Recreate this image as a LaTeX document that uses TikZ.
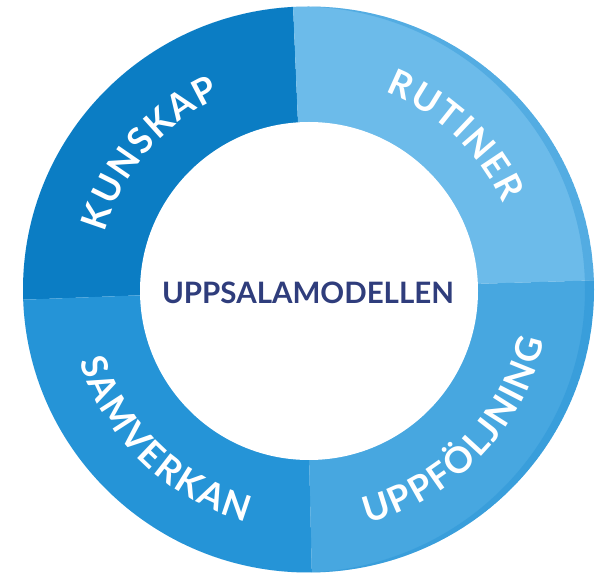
\documentclass[tikz,border=0pt]{standalone}
\usepackage{fontspec}
\newfontfamily\lblfont{Lato}
\usetikzlibrary{decorations.text}
\definecolor{kunskapc}{HTML}{0B7DC4}
\definecolor{rutinerc}{HTML}{6CBBEA}
\definecolor{uppfc}{HTML}{47A7E0}
\definecolor{samverkc}{HTML}{2594D7}
\definecolor{rimc}{HTML}{1A8AD0}
\definecolor{titlec}{HTML}{2F3D7C}
\newcommand{\ringfont}{\lblfont\bfseries\fontsize{36}{36}\selectfont}
\begin{document}
\begin{tikzpicture}[x=1pt,y=1pt,
  lbl/.style={font=\ringfont, decorate, decoration={text effects along path, text={#1}, text align=center,
    text effects/.cd, text along path,
    characters={text=white, font=\ringfont},
    character widths/.try={font=\ringfont, inner xsep=1pt}}}]
\useasboundingbox (0,0) rectangle (603,576);
\coordinate (ctr) at (308.5,286.5);
\coordinate (tc) at (309,286);
\coordinate (c) at (305,287);
\begin{scope}
  \clip (ctr) ellipse [x radius=285.5, y radius=283];
  \fill[kunskapc] (c) -- (292,596) -- (-20,596) -- (-20,274.6) -- cycle;
  \fill[rutinerc] (c) -- (292,596) -- (620,596) -- (620,296.4) -- cycle;
  \fill[uppfc] (c) -- (620,296.4) -- (620,-24) -- (312.5,-24) -- cycle;
  \fill[samverkc] (c) -- (312.5,-24) -- (-20,-24) -- (-20,274.6) -- cycle;
  \fill[rimc, fill opacity=0.3, even odd rule]
    (ctr) ellipse [x radius=285.5, y radius=283]
    ([xshift=-9pt]ctr) ellipse [x radius=285.5, y radius=283];
\end{scope}
\fill[white] (309,285) circle [radius=169];
\path[lbl=KUNSKAP] ([shift={(179.5:212)}]tc) arc [start angle=179.5, end angle=99.5, radius=212];
\path[lbl=RUTINER] ([shift={(86.5:212)}]tc) arc [start angle=86.5, end angle=6.5, radius=212];
\path[lbl=SAMVERKAN] ([shift={(186:240)}]tc) arc [start angle=186, end angle=266, radius=240];
\path[lbl=UPPFÖLJNING] ([shift={(276:240)}]tc) arc [start angle=276, end angle=356, radius=240];
\node[text=titlec, font=\lblfont\bfseries\fontsize{29.5}{29.5}\selectfont] (title) at (308,283) {UPPSALAMODELLEN};
\end{tikzpicture}
\end{document}
